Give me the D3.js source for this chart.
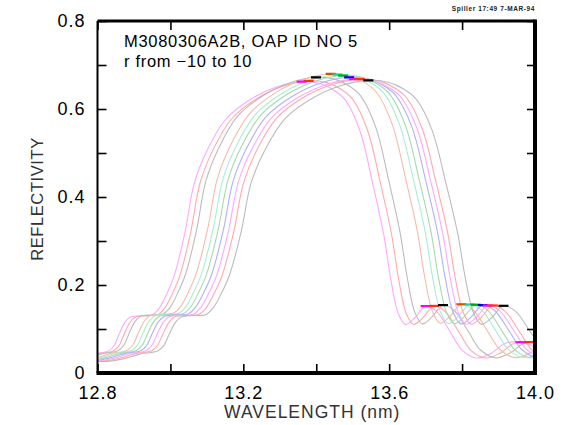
<!DOCTYPE html>
<html><head><meta charset="utf-8">
<script src="https://cdn.jsdelivr.net/npm/d3@7"></script>
<style>body{margin:0;background:#fff}svg{display:block}</style>
</head><body>
<svg id="c" width="573" height="425"></svg>
<script>
// ---- data ----
const titleLines = ["M3080306A2B, OAP ID NO 5", "r from \u221210 to 10"];
const stamp = "Spiller  17:49 7-MAR-94";
const xMajorTicks = [12.8, 13.2, 13.6, 14.0];
const xTickLabels = ["12.8", "13.2", "13.6", "14.0"];
const xMinorTicks = [13.0, 13.4, 13.8];
const yMajorTicks = [0, 0.2, 0.4, 0.6, 0.8];
const yTickLabels = ["0", "0.2", "0.4", "0.6", "0.8"];
const yMinorTicks = [0.1, 0.3, 0.5, 0.7];
// base reflectivity profile (first curve), wavelength in nm
const baseWl = [12.60,12.64,12.68,12.72,12.76,12.79,12.81,12.83,12.845,12.86,12.875,12.89,12.92,12.95,12.97,12.99,13.01,13.04,13.065,13.10,13.15,13.22,13.29,13.36,13.41,13.45,13.48,13.52,13.555,13.585,13.605,13.625,13.645,13.67,13.70,13.73,13.77,13.80,13.84,13.88,13.92,13.96,14.00,14.04];
const baseR  = [0.035,0.030,0.026,0.028,0.036,0.044,0.046,0.050,0.062,0.090,0.115,0.127,0.130,0.132,0.148,0.180,0.220,0.320,0.430,0.505,0.575,0.622,0.650,0.662,0.658,0.642,0.620,0.550,0.430,0.315,0.210,0.135,0.110,0.125,0.152,0.140,0.090,0.052,0.034,0.045,0.068,0.070,0.060,0.048];
// per-curve wavelength shift, read at the rising edge (13.05 nm) and falling edge (13.55 nm)
const riseShift = [0, 0.016, 0.032, 0.063, 0.078, 0.092, 0.106, 0.120, 0.135, 0.155];
const fallShift = [0, 0.021, 0.044, 0.090, 0.111, 0.127, 0.145, 0.159, 0.173, 0.200];
// per-curve peak reflectivity
const peakR = [0.662, 0.664, 0.672, 0.680, 0.678, 0.676, 0.672, 0.668, 0.668, 0.665];
const lineColors = ["#ffa8ff","#ffaaaa","#bcbcbc","#f4bcaa","#a4f0d4","#aad8aa","#b0b0ff","#ffa8ff","#ffaaaa","#bcbcbc"];
const markColors = ["#ff00ff","#ff3300","#000000","#cc5500","#00ddaa","#00aa00","#0000ff","#ff00ff","#ff3300","#000000"];

// ---- layout ----
const svg = d3.select("#c");
const L = 97.5, R = 535, T = 21, B = 373;
const x = d3.scaleLinear().domain([12.8, 14.0]).range([L, R]);
const y = d3.scaleLinear().domain([0, 0.8]).range([B, T]);
const font = "'Liberation Sans', Arial, sans-serif";
const baseMax = d3.max(baseR);

// curves
const series = riseShift.map((s0, i) => {
  const s1 = fallShift[i];
  const k = peakR[i] / baseMax;
  return baseWl.map((w, j) => {
    const s = s0 + (s1 - s0) * (w - 13.05) / (13.55 - 13.05);
    return [w + s, baseR[j] * k];
  });
});

const defs = svg.append("defs");
defs.append("clipPath").attr("id", "clip").append("rect")
  .attr("x", L).attr("y", T).attr("width", R - L).attr("height", B - T);

const line = d3.line().x(d => x(d[0])).y(d => y(d[1])).curve(d3.curveCatmullRom.alpha(0.5));
const g = svg.append("g").attr("clip-path", "url(#clip)");
series.forEach((pts, i) => {
  g.append("path").attr("d", line(pts)).attr("fill", "none")
    .attr("stroke", lineColors[i]).attr("stroke-width", 1.1);
});
// markers at local maxima
series.forEach((pts, i) => {
  pts.forEach((p, k) => {
    if (p[0] < 12.8 || p[0] > 14.0) return;
    const prev = pts[k - 1], next = pts[k + 1];
    const isMax = prev && next && p[1] >= prev[1] && p[1] >= next[1];
    if (isMax) {
      g.append("line").attr("x1", x(p[0]) - 5).attr("x2", x(p[0]) + 5)
        .attr("y1", y(p[1])).attr("y2", y(p[1]))
        .attr("stroke", markColors[i]).attr("stroke-width", 2.2);
    }
  });
});

// axes (inward ticks)
function styleAxis(sel) {
  sel.select(".domain").remove();
  sel.selectAll(".tick line").attr("stroke", "#000").attr("stroke-width", 1.6);
  sel.selectAll(".tick text").attr("font-family", font).attr("font-size", 18).attr("fill", "#000");
}
svg.append("g").attr("transform", `translate(${L},0)`)
  .call(d3.axisLeft(y).tickValues(yMajorTicks).tickSize(-9).tickPadding(12)
    .tickFormat((d, i) => yTickLabels[i])).call(styleAxis);
svg.append("g").attr("transform", `translate(${L},0)`)
  .call(d3.axisLeft(y).tickValues(yMinorTicks).tickSize(-9).tickFormat("")).call(styleAxis);
svg.append("g").attr("transform", `translate(${R},0)`)
  .call(d3.axisRight(y).tickValues(yMajorTicks.concat(yMinorTicks)).tickSize(-8).tickFormat("")).call(styleAxis);
svg.append("g").attr("transform", `translate(0,${B})`)
  .call(d3.axisBottom(x).tickValues(xMajorTicks).tickSize(-9).tickPadding(13)
    .tickFormat((d, i) => xTickLabels[i])).call(styleAxis);
svg.append("g").attr("transform", `translate(0,${B})`)
  .call(d3.axisBottom(x).tickValues(xMinorTicks).tickSize(-9).tickFormat("")).call(styleAxis);
svg.append("g").attr("transform", `translate(0,${T})`)
  .call(d3.axisTop(x).tickValues(xMajorTicks.concat(xMinorTicks)).tickSize(-9).tickFormat("")).call(styleAxis);
svg.selectAll(".tick text").attr("letter-spacing", 1);

// frame
const frame = [[L, T, R, T, 3], [R, T - 1.5, R, B + 2, 4], [L - 1, B, R + 2, B, 4], [L, T, L, B, 2]];
frame.forEach(f => svg.append("line").attr("x1", f[0]).attr("y1", f[1]).attr("x2", f[2]).attr("y2", f[3])
  .attr("stroke", "#000").attr("stroke-width", f[4]));

// labels
svg.append("text").attr("x", (L + R) / 2 - 4).attr("y", 418).attr("text-anchor", "middle")
  .attr("font-family", font).attr("font-size", 17.5).attr("letter-spacing", 1).attr("fill", "#333")
  .text("WAVELENGTH (nm)");
svg.append("text").attr("transform", `translate(43,${(T + B) / 2 + 2}) rotate(-90)`).attr("text-anchor", "middle")
  .attr("font-family", font).attr("font-size", 16.5).attr("letter-spacing", 0.6).attr("fill", "#333")
  .text("REFLECTIVITY");
titleLines.forEach((t, i) => {
  svg.append("text").attr("x", 124).attr("y", 47 + i * 20)
    .attr("font-family", font).attr("font-size", 16.5).attr("letter-spacing", 0.7).attr("fill", "#000")
    .text(t);
});
svg.append("text").attr("x", 535).attr("y", 11).attr("text-anchor", "end")
  .attr("font-family", font).attr("font-size", 6.5).attr("letter-spacing", 0.6).attr("font-weight", "bold").attr("fill", "#222")
  .text(stamp);
</script>
</body></html>
